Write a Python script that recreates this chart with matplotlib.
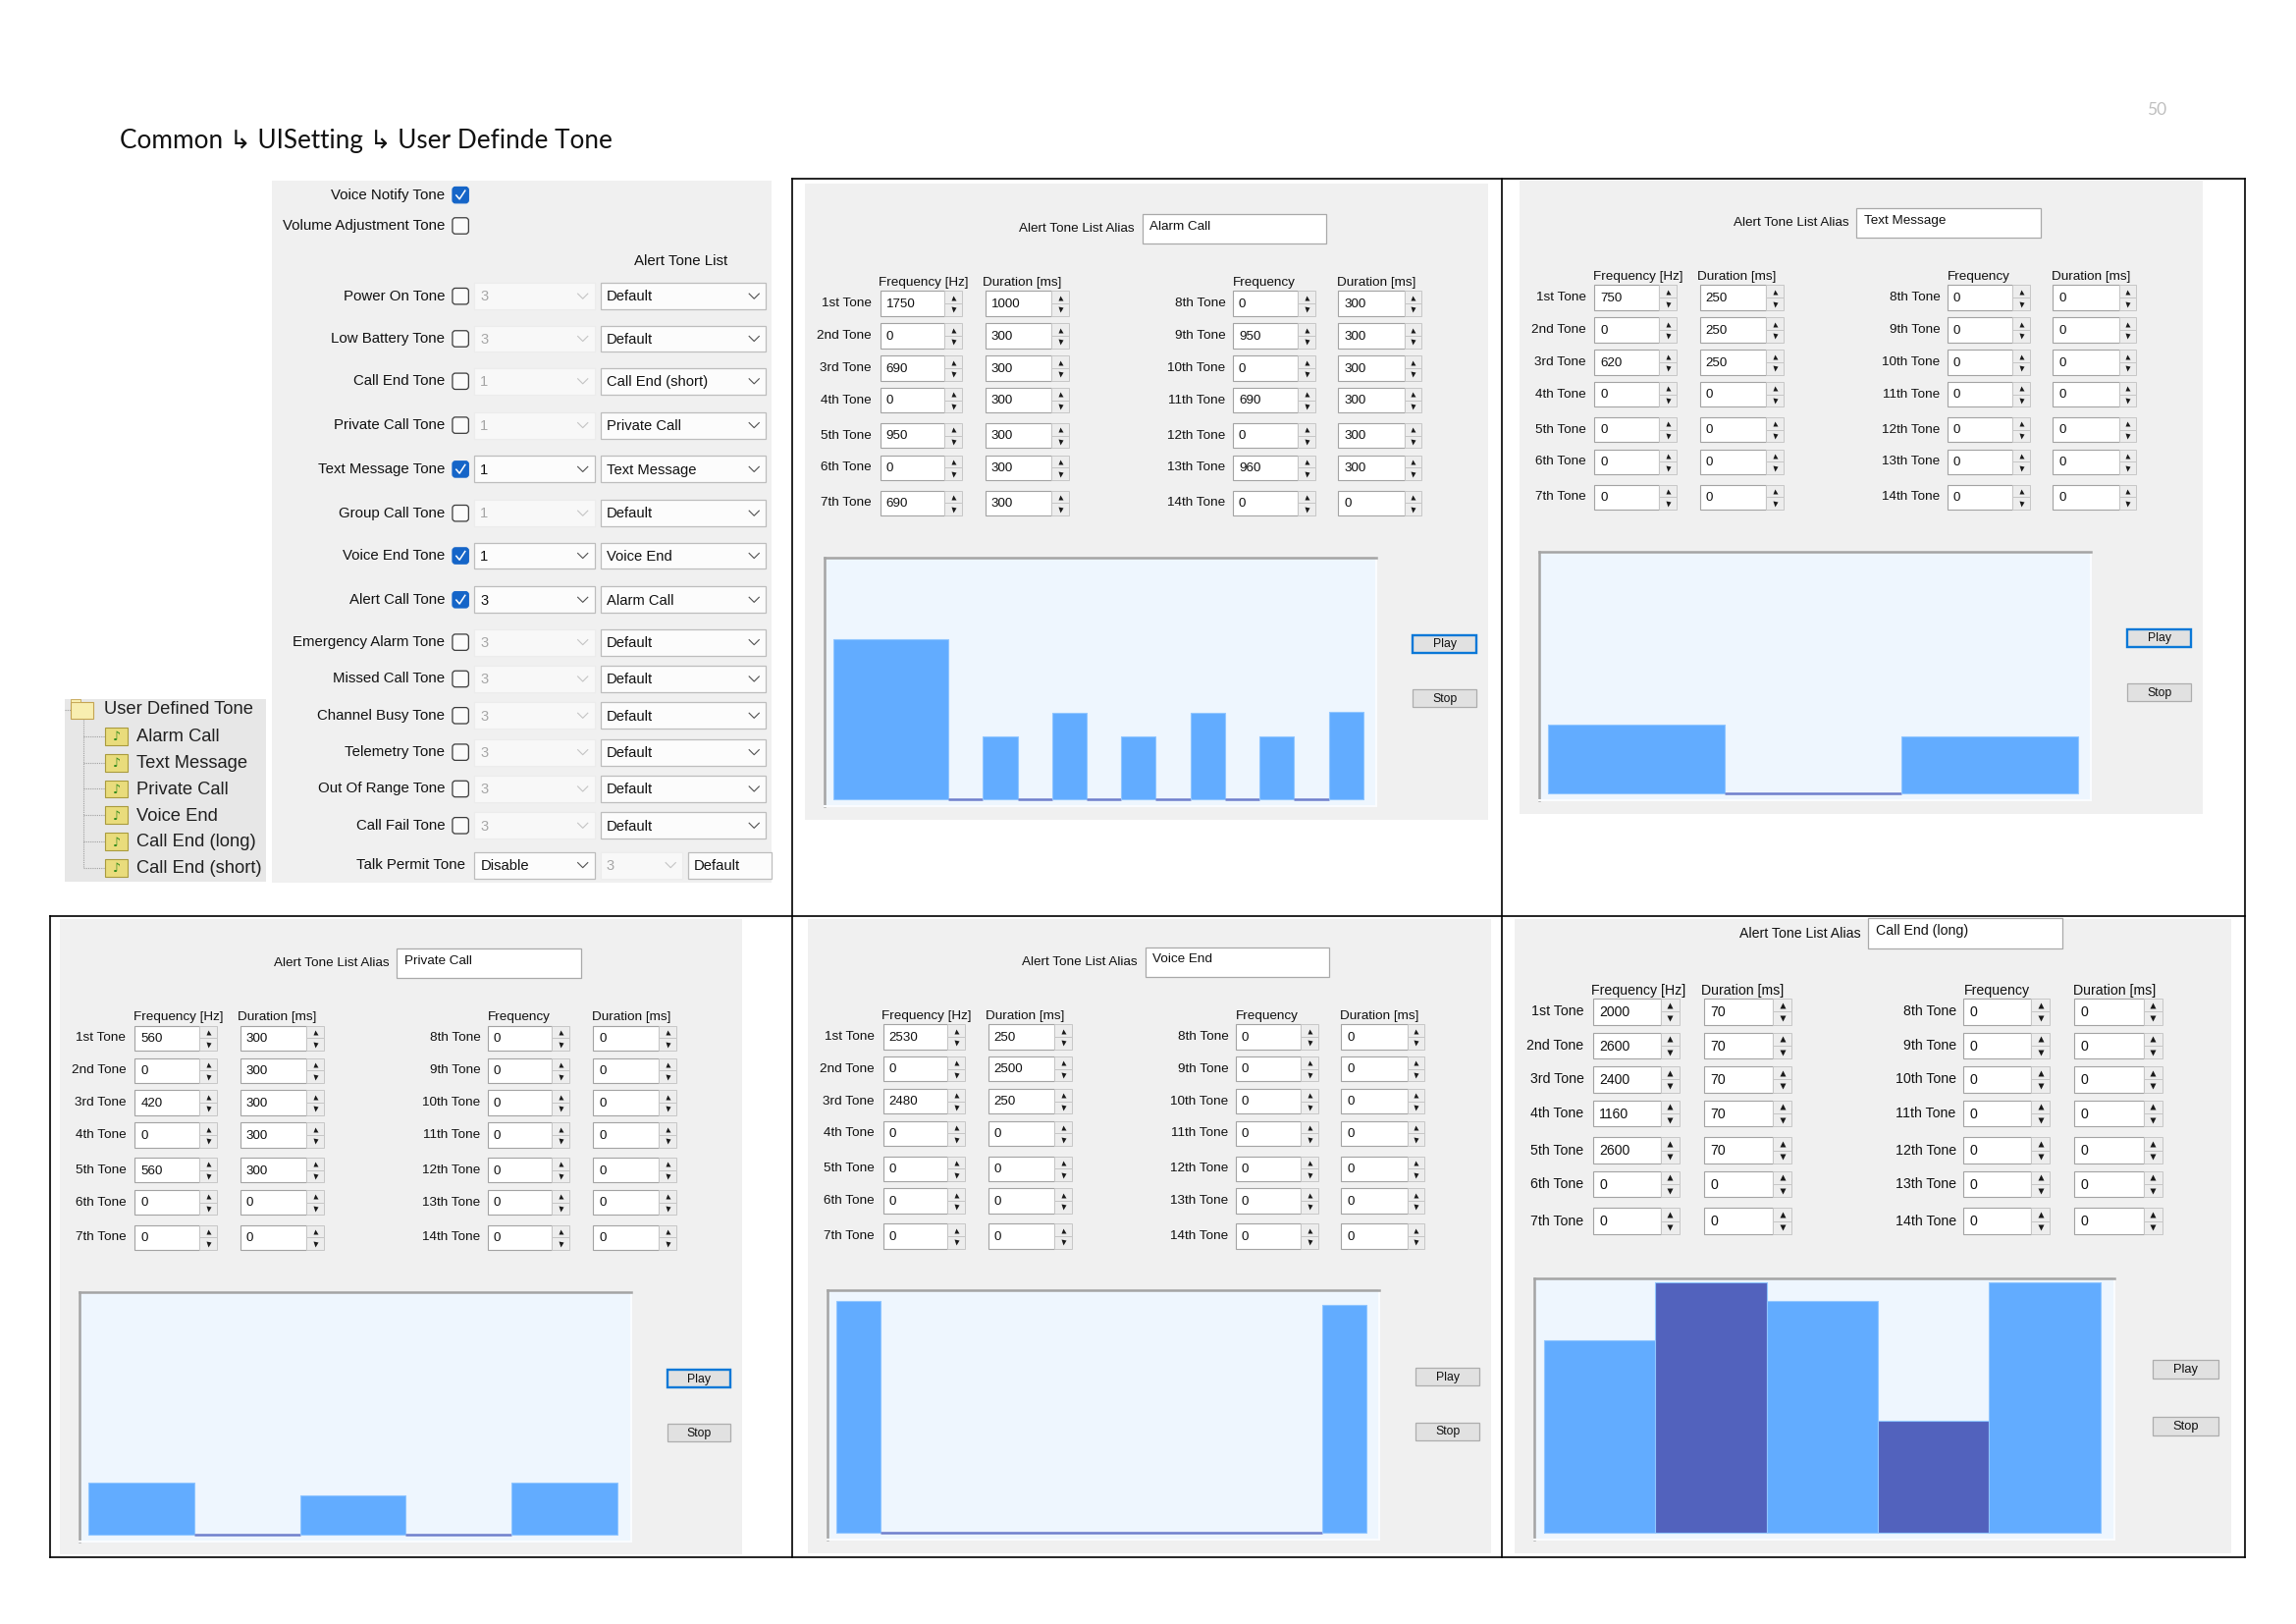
import matplotlib
matplotlib.use("Agg")
import matplotlib.pyplot as plt
from matplotlib.patches import Rectangle, FancyBboxPatch

# page is laid out in layout units (about 1.49 px of out.png each)
PW, PH = 1568, 1107.5
UI_FONT = ["Liberation Sans", "DejaVu Sans"]

# ============================================================
# DATA
# ============================================================
TITLE = "Common ↳ UISetting ↳ User Definde Tone"
PAGE_NO = "50"

TONE_NAMES = ["1st Tone", "2nd Tone", "3rd Tone", "4th Tone", "5th Tone",
              "6th Tone", "7th Tone", "8th Tone", "9th Tone", "10th Tone",
              "11th Tone", "12th Tone", "13th Tone", "14th Tone"]

ALARM_FREQ = [1750, 0, 690, 0, 950, 0, 690, 0, 950, 0, 690, 0, 960, 0]
ALARM_DUR = [1000, 300, 300, 300, 300, 300, 300, 300, 300, 300, 300, 300, 300, 0]
TEXT_FREQ = [750, 0, 620, 0, 0, 0, 0, 0, 0, 0, 0, 0, 0, 0]
TEXT_DUR = [250, 250, 250, 0, 0, 0, 0, 0, 0, 0, 0, 0, 0, 0]
PRIVATE_FREQ = [560, 0, 420, 0, 560, 0, 0, 0, 0, 0, 0, 0, 0, 0]
PRIVATE_DUR = [300, 300, 300, 300, 300, 0, 0, 0, 0, 0, 0, 0, 0, 0]
VOICE_FREQ = [2530, 0, 2480, 0, 0, 0, 0, 0, 0, 0, 0, 0, 0, 0]
VOICE_DUR = [250, 2500, 250, 0, 0, 0, 0, 0, 0, 0, 0, 0, 0, 0]
CALLEND_FREQ = [2000, 2600, 2400, 1160, 2600, 0, 0, 0, 0, 0, 0, 0, 0, 0]
CALLEND_DUR = [70, 70, 70, 70, 70, 0, 0, 0, 0, 0, 0, 0, 0, 0]

SETTING_LABELS = ["Power On Tone", "Low Battery Tone", "Call End Tone",
                  "Private Call Tone", "Text Message Tone", "Group Call Tone",
                  "Voice End Tone", "Alert Call Tone", "Emergency Alarm Tone",
                  "Missed Call Tone", "Channel Busy Tone", "Telemetry Tone",
                  "Out Of Range Tone", "Call Fail Tone"]
SETTING_ON = [False, False, False, False, True, False, True, True,
              False, False, False, False, False, False]
SETTING_COUNT = ["3", "3", "1", "1", "1", "1", "1", "3", "3", "3", "3", "3", "3", "3"]
SETTING_LIST = ["Default", "Default", "Call End (short)", "Private Call",
                "Text Message", "Default", "Voice End", "Alarm Call", "Default",
                "Default", "Default", "Default", "Default", "Default"]

TREE_ROOT = "User Defined Tone"
TREE_ITEMS = ["Alarm Call", "Text Message", "Private Call", "Voice End",
              "Call End (long)", "Call End (short)"]

# colours
PANEL_BG = "#f0f0f0"
CHART_BG = "#eef6fe"
LIGHT_BAR = "#62acff"
DARK_BAR = "#5262bd"
ZERO_LINE = "#6f7fcc"

# layout
SET_ROWS = [202, 231, 260, 290, 320, 350, 379, 409, 438, 463, 488, 513, 538, 563]
ROW_DY = [0, 22, 44, 66, 90, 112, 136]

fig = plt.figure(figsize=(23.39, 16.54), dpi=100)
fig.patch.set_facecolor("white")
ax = fig.add_axes([0, 0, 1, 1])
ax.set_xlim(0, PW)
ax.set_ylim(PH, 0)
ax.axis("off")


def box(x1, y1, x2, y2, fc, ec, lw=0.8, z=1):
    ax.add_patch(Rectangle((x1, y1), x2 - x1, y2 - y1, facecolor=fc,
                           edgecolor=ec, linewidth=lw, zorder=z))


def text(x, y, s, size, ha="left", color="#111111", z=3, family=None):
    ax.text(x, y, s, fontsize=size, ha=ha, va="center", color=color,
            family=family or UI_FONT, zorder=z)


def chevron(x, y, color):
    ax.plot([x - 3.4, x, x + 3.4], [y - 1.7, y + 1.7, y - 1.7],
            color=color, lw=0.8, zorder=3)


def checkbox(x, y, checked):
    if checked:
        ax.add_patch(FancyBboxPatch((x, y - 5.5), 11, 11,
                                    boxstyle="round,pad=0,rounding_size=2",
                                    facecolor="#1565c8", edgecolor="#1565c8",
                                    linewidth=0.8, zorder=2))
        ax.plot([x + 2.6, x + 4.8, x + 8.6], [y + 0.2, y + 2.8, y - 3.0],
                color="white", lw=1.1, zorder=3)
    else:
        ax.add_patch(FancyBboxPatch((x, y - 5.5), 11, 11,
                                    boxstyle="round,pad=0,rounding_size=2",
                                    facecolor="#fbfbfb", edgecolor="#3a3a3a",
                                    linewidth=0.9, zorder=2))


def combo(x1, x2, y, value, enabled, arrow=True):
    if enabled:
        box(x1, y - 9, x2, y + 9, "#fcfcfc", "#bdbdbd", lw=0.9, z=2)
        text(x1 + 4, y + 0.5, value, 10.6)
        if arrow:
            chevron(x2 - 8, y, "#505050")
    else:
        box(x1, y - 9, x2, y + 9, "#f8f8f8", "#ececec", lw=0.8, z=2)
        text(x1 + 4, y + 0.5, value, 10.6, color="#a6a6a6")
        if arrow:
            chevron(x2 - 8, y, "#c4c4c4")


def spinbox(x, y, w, h, value, s):
    sw = 12 * s
    box(x, y - h / 2, x + w - sw, y + h / 2, "white", "#a3a3a3", lw=0.8, z=2)
    box(x + w - sw, y - h / 2, x + w, y, "#ededed", "#c6c6c6", lw=0.7, z=2)
    box(x + w - sw, y, x + w, y + h / 2, "#ededed", "#c6c6c6", lw=0.7, z=2)
    ax.plot(x + w - sw / 2, y - h / 4, marker="^", ms=3.6 * s, color="#1a1a1a",
            mec="none", zorder=3)
    ax.plot(x + w - sw / 2, y + h / 4, marker="v", ms=3.6 * s, color="#1a1a1a",
            mec="none", zorder=3)
    text(x + 4 * s, y + 0.5, value, 9.6 * s)


def button(x1, y1, x2, y2, label, focused, s):
    if focused:
        box(x1, y1, x2, y2, "#e1e1e1", "#0a78d7", lw=1.7, z=2)
    else:
        box(x1, y1, x2, y2, "#e1e1e1", "#adadad", lw=0.9, z=2)
    text((x1 + x2) / 2, (y1 + y2) / 2 + 0.5, label, 8.8 * s, ha="center")


def tone_chart(x1, y1, x2, y2, freqs, durs):
    cax = fig.add_axes([x1 / PW, 1 - y2 / PH, (x2 - x1) / PW, (y2 - y1) / PH])
    cax.set_facecolor(CHART_BG)
    lefts, widths, heights, colors, edges, lws = [], [], [], [], [], []
    t = 0
    for i, (f, d) in enumerate(zip(freqs, durs)):
        if d > 0:
            lefts.append(t)
            widths.append(d)
            heights.append(f)
            colors.append(LIGHT_BAR if i % 2 == 0 else DARK_BAR)
            edges.append("#90c6ff" if f > 0 else ZERO_LINE)
            lws.append(0.8 if f > 0 else 1.8)
        t += d
    cax.bar(lefts, heights, width=widths, align="edge", color=colors,
            edgecolor=edges, linewidth=lws)
    pad = t / 60.0
    cax.set_xlim(-pad, t + 1.5 * pad)
    cax.set_ylim(-75, 2640)
    cax.set_xticks([])
    cax.set_yticks([])
    for side in ("top", "left"):
        cax.spines[side].set_color("#a4a4a4")
        cax.spines[side].set_linewidth(1.8)
    for side in ("bottom", "right"):
        cax.spines[side].set_color("#fafcff")
        cax.spines[side].set_linewidth(1.5)


def tone_panel(alias, freqs, durs, frame, x0, y0, s, focused):
    fx1, fy1, fx2, fy2 = frame

    def X(d):
        return x0 + d * s

    def Y(d):
        return y0 + d * s

    box(max(X(-51), fx1 + 1.5), max(Y(-82), fy1 + 1.5),
        min(X(415), fx2 - 1.5), min(Y(352), fy2 - 1.5), PANEL_BG, "none", z=0.5)
    fs = 9.7 * s
    text(X(174), Y(-51), "Alert Tone List Alias", fs, ha="right")
    box(X(179), Y(-61), X(305), Y(-41), "white", "#a9a9a9", lw=0.9, z=2)
    text(X(184), Y(-52.5), alias, fs)
    for hx, h in [(-1, "Frequency [Hz]"), (70, "Duration [ms]"),
                  (241, "Frequency"), (312, "Duration [ms]")]:
        text(X(hx), Y(-14), h, fs)
    for i in range(14):
        col, r = divmod(i, 7)
        y = Y(ROW_DY[r])
        lx, fx, dx = (-6, 0, 72) if col == 0 else (236, 241, 313)
        text(X(lx), y, TONE_NAMES[i], fs, ha="right")
        spinbox(X(fx), y, 56 * s, 17 * s, str(freqs[i]), s)
        spinbox(X(dx), y, 57 * s, 17 * s, str(durs[i]), s)
    tone_chart(X(-38), Y(173), X(339), Y(343), freqs, durs)
    button(X(364), Y(226), X(407), Y(238), "Play", focused, s)
    button(X(364), Y(263), X(407), Y(275), "Stop", False, s)


# ----- heading -----
ax.text(82, 96, TITLE, fontsize=18.8, va="center", ha="left", color="#111111",
        family=["Lato", "DejaVu Sans"])
ax.text(1473, 75, PAGE_NO, fontsize=12.5, va="center", ha="center",
        color="#bfbfbf", family=["Lato", "DejaVu Sans"])

# ----- settings screenshot -----
box(186, 123, 527, 602, PANEL_BG, "none", z=0.5)
text(304, 133, "Voice Notify Tone", 10.8, ha="right")
checkbox(309, 133, True)
text(304, 154, "Volume Adjustment Tone", 10.8, ha="right")
checkbox(309, 154, False)
text(433, 178, "Alert Tone List", 10.8)
for i, name in enumerate(SETTING_LABELS):
    y = SET_ROWS[i]
    text(304, y, name, 10.8, ha="right")
    checkbox(309, y, SETTING_ON[i])
    combo(324, 406, y, SETTING_COUNT[i], SETTING_ON[i])
    combo(410, 523, y, SETTING_LIST[i], True)
text(318, 590, "Talk Permit Tone", 10.8, ha="right")
combo(324, 406, 590, "Disable", True)
combo(410, 466, 590, "3", False)
combo(470, 527, 590, "Default", True, arrow=False)

# ----- tree -----
box(44, 477, 182, 601, "#e7e7e7", "none", z=0.5)
ax.plot([57, 57], [491, 592], color="#a0a0a0", lw=0.8, ls=(0, (1, 1)), zorder=1)
ax.plot([44, 48], [484, 484], color="#a0a0a0", lw=0.8, ls=(0, (1, 1)), zorder=1)
box(48, 478.5, 64, 490, "#f8eeb0", "#c4a452", lw=0.8, z=2)
box(48, 477, 55, 479, "#f8eeb0", "#c4a452", lw=0.6, z=2)
text(71, 484, TREE_ROOT, 13.2, color="#202020")
for i, item in enumerate(TREE_ITEMS):
    y = 502 + 18 * i
    ax.plot([57, 72], [y, y], color="#a0a0a0", lw=0.8, ls=(0, (1, 1)), zorder=1)
    box(72, y - 6, 87, y + 6, "#e9dc7c", "#a99b3e", lw=0.8, z=2)
    ax.text(80, y + 0.5, "♪", fontsize=9, ha="center", va="center",
            color="#2f8a1c", family="DejaVu Sans", zorder=3)
    text(93, y + 0.5, item, 13.2, color="#202020")

# ----- tone list panels -----
PANELS = [
    ("Alarm Call", ALARM_FREQ, ALARM_DUR, (541, 122, 1026, 625), 601, 207, 1.0, True),
    ("Text Message", TEXT_FREQ, TEXT_DUR, (1026, 122, 1533, 625), 1089, 203, 1.0, True),
    ("Private Call", PRIVATE_FREQ, PRIVATE_DUR, (34, 625, 541, 1062), 92, 708, 1.0, True),
    ("Voice End", VOICE_FREQ, VOICE_DUR, (541, 625, 1026, 1062), 603, 707, 1.0, False),
    ("Call End (long)", CALLEND_FREQ, CALLEND_DUR, (1026, 625, 1533, 1062), 1088, 690, 1.05, False),
]
for p in PANELS:
    tone_panel(*p)

# ----- table frame -----
frame_lines = [((541, 1533), (122, 122)), ((34, 1533), (625, 625)),
               ((34, 1533), (1062, 1062)), ((34, 34), (625, 1062)),
               ((541, 541), (122, 1062)), ((1026, 1026), (122, 1062)),
               ((1533, 1533), (122, 1062))]
for xs, ys in frame_lines:
    ax.plot(xs, ys, color="black", lw=1.2, zorder=5, solid_capstyle="projecting")

fig.savefig("out.png", dpi=100, facecolor="white")
